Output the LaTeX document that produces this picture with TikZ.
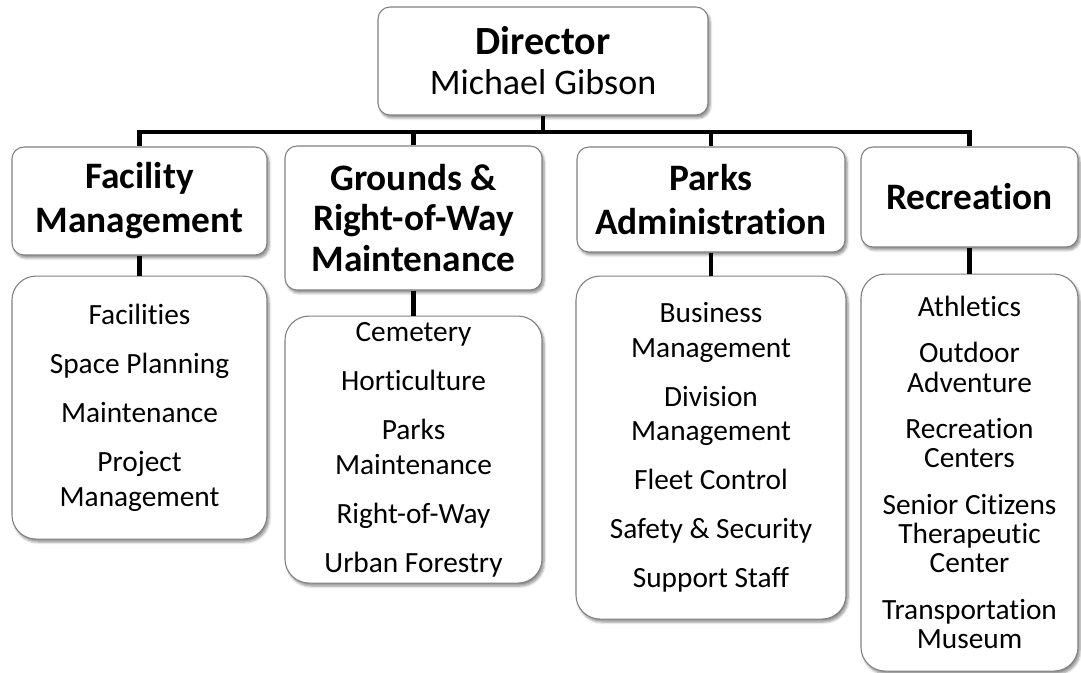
\documentclass[tikz,border=0pt]{standalone}
\usepackage{fontspec}
\setmainfont[Ligatures=NoCommon]{Carlito}
\usetikzlibrary{positioning}
\usetikzlibrary{shadows.blur}
\tikzset{link/.style = {line width=3.5pt}}

\begin{document}
\begin{tikzpicture}[x=0.75pt,y=-0.75pt,
  box/.style={rectangle,rounded corners=9pt,draw=black!50,line width=0.8pt,fill=white,align=center,inner sep=2pt,
    blur shadow={shadow xshift=1.5pt,shadow yshift=-2.2pt,shadow blur steps=6,shadow opacity=45}},
  head node/.style={box,font=\fontsize{28}{33}\bfseries\selectfont},
  list node/.style={box,rounded corners=18pt,font=\fontsize{22}{26}\selectfont}]
\useasboundingbox (0,0) rectangle (1081,672);
% top
\node[head node,font=\fontsize{30}{30}\bfseries\selectfont,minimum width=247.5pt,minimum height=81pt] (dir) at (543,61) {Director\\\fontsize{27}{30}\mdseries\selectfont Michael Gibson};
% divisions
\node[head node,minimum width=191.25pt,minimum height=81pt] (fac) at (139.5,201) {Facility\\Management};
\node[head node,font=\fontsize{28}{30.5}\bfseries\selectfont,minimum width=192.75pt,minimum height=108pt] (grd) at (413.5,218) {Grounds \&\\Right-of-Way\\Maintenance};
\node[head node,minimum width=201pt,minimum height=78.75pt] (prk) at (711,199.5) {Parks\\Administration};
\node[head node,minimum width=162.75pt,minimum height=75pt] (rec) at (969.5,197) {Recreation};
% sections
\node[list node,minimum width=191.25pt,minimum height=197.25pt] (facl) [below=15pt of fac]
  {Facilities\\[10.75pt]Space Planning\\[10.75pt]Maintenance\\[10.75pt]Project\\Management};
\node[list node,minimum width=192.75pt,minimum height=200.25pt] (grdl) [below=18.75pt of grd]
  {Cemetery\\[10.75pt]Horticulture\\[10.75pt]Parks\\Maintenance\\[10.75pt]Right-of-Way\\[10.75pt]Urban Forestry};
\node[list node,minimum width=202.5pt,minimum height=257.25pt] (prkl) [below=17.25pt of prk]
  {Business\\Management\\[10.75pt]Division\\Management\\[10.75pt]Fleet Control\\[10.75pt]Safety \& Security\\[10.75pt]Support Staff};
\node[list node,font=\fontsize{22}{22}\selectfont,minimum width=162.75pt,minimum height=297.75pt] (recl) [below=19.5pt of rec]
  {Athletics\\[12.75pt]Outdoor\\Adventure\\[12.75pt]Recreation\\Centers\\[12.75pt]Senior Citizens\\Therapeutic\\Center\\[12.75pt]Transportation\\Museum};
% lines
\coordinate (bar) at (543,132);
\draw[link] (dir.south) -- (bar);
\foreach \n in {fac,grd,prk,rec}
  \draw[link] (bar) -| (\n.north);
\foreach \a/\b in {fac/facl,grd/grdl,prk/prkl,rec/recl}
  \draw[link] (\a.south) -- (\a.south |- \b.north);
\end{tikzpicture}
\end{document}
